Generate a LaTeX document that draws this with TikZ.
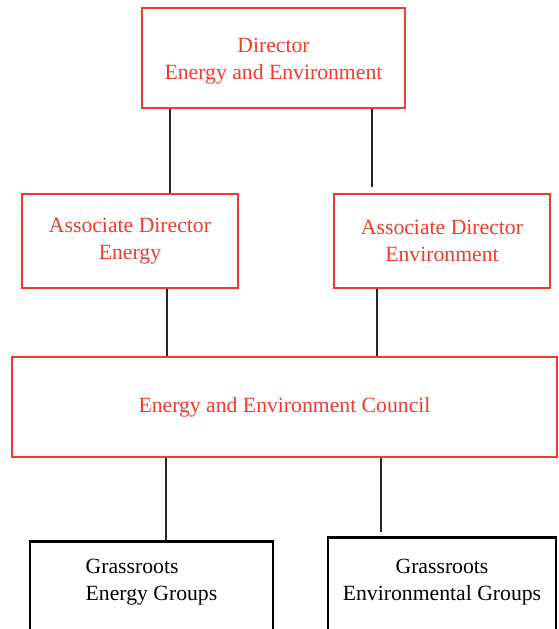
\documentclass[tikz,border=0pt]{standalone}
\usepackage{fontspec}
\setmainfont{Liberation Serif}
\usetikzlibrary{positioning}
\definecolor{boxred}{RGB}{240,58,44}

\begin{document}
\begin{tikzpicture}[x=1pt, y=-1pt,
        font=\fontsize{21.7}{27}\selectfont,
        redbox/.style={draw=boxred, text=boxred, line width=2.2pt, align=center, inner sep=0pt},
        blackbox/.style={draw=black, line width=2.8pt, anchor=north, inner xsep=0pt, text depth=70pt},
        link/.style={draw=black!85, line width=2.4pt}]
        \useasboundingbox (0, 0) rectangle (558, 629);
        \node [redbox, minimum width=263, minimum height=100] (DIR) at (273.5, 58)  {\\[-6pt]Director\\Energy and Environment};
        \node [redbox, minimum width=216, minimum height=94]  (ADE) at (130, 241)   {Associate Director\\Energy};
        \node [redbox, minimum width=216, minimum height=94]  (ADV) at (442, 241)   {Associate Director\\Environment};
        \node [redbox, minimum width=545, minimum height=100] (EEC) at (284.5, 407) {Energy and Environment Council};
        \node [blackbox, minimum width=243, inner ysep=18pt, align=left]   (GRE) at (151.5, 540) {Grassroots\\Energy Groups};
        \node [blackbox, minimum width=228, inner ysep=22pt, align=center] (GRV) at (442, 536)   {Grassroots\\Environmental Groups};
        \coordinate (XA) at (170, 0);
        \coordinate (XB) at (372, 0);
        \coordinate (XC) at (167, 0);
        \coordinate (XD) at (377, 0);
        \coordinate (XE) at (166, 0);
        \coordinate (XF) at (381, 0);
        \draw [link] (DIR.south -| XA) -- (ADE.north -| XA);
        \draw [link, shorten >=6pt] (DIR.south -| XB) -- (ADV.north -| XB);
        \draw [link] (ADE.south -| XC) -- (EEC.north -| XC);
        \draw [link] (ADV.south -| XD) -- (EEC.north -| XD);
        \draw [link] (EEC.south -| XE) -- (GRE.north -| XE);
        \draw [link, shorten >=4pt] (EEC.south -| XF) -- (GRV.north -| XF);
\end{tikzpicture}
\end{document}
